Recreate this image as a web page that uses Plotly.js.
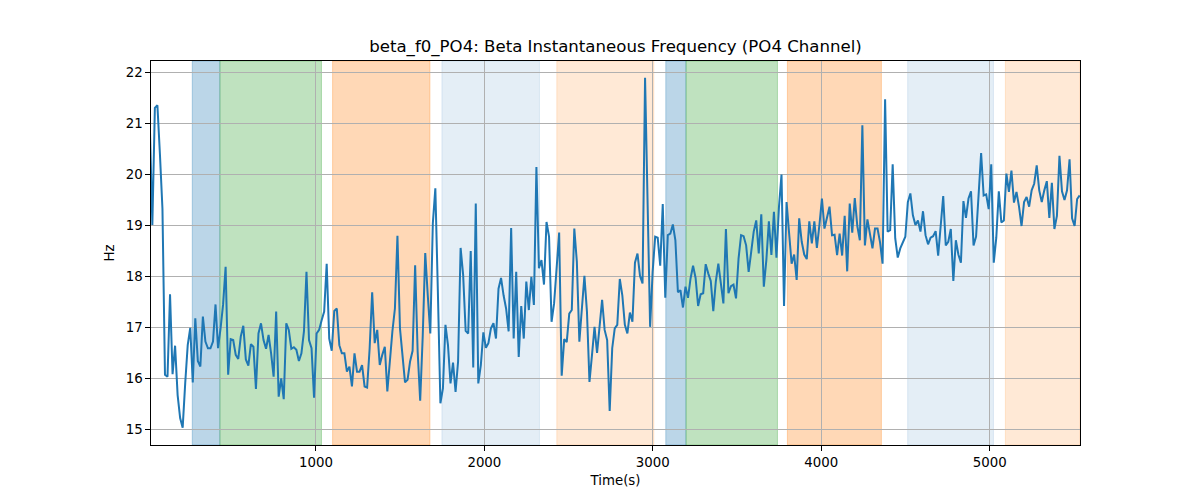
<!DOCTYPE html>
<html>
<head>
<meta charset="utf-8">
<script src="https://cdn.plot.ly/plotly-3.0.1.min.js"></script>
<style>html,body{margin:0;padding:0;background:#fff;}#chart{width:1200px;height:500px;}</style>
</head>
<body>
<div id="chart"></div>
<script>
// Sampling of the series (seconds)
const sampleStart = 14;
const sampleStep = 15;

// Beta instantaneous frequency, PO4 channel (Hz)
const betaHz = [
  20.97, 19.01, 21.31, 21.36, 20.4, 19.33, 16.07, 16.03, 17.65, 16.08,
  16.64, 15.67, 15.22, 15.03, 15.90, 16.65, 16.99, 15.92, 17.18, 16.34,
  16.23, 17.21, 16.72, 16.59, 16.59, 16.72, 17.45, 16.59, 16.98, 17.45,
  18.19, 16.07, 16.77, 16.75, 16.46, 16.38, 16.82, 17.03, 16.37, 16.25,
  16.67, 16.62, 15.79, 16.88, 17.08, 16.75, 16.58, 16.85, 16.49, 16.03,
  17.31, 15.64, 16.0, 15.59, 17.08, 16.95, 16.58, 16.61, 16.56, 16.34,
  16.49, 16.92, 18.09, 16.75, 16.59, 15.62, 16.88, 16.95, 17.14, 17.31,
  18.25, 16.78, 16.54, 17.32, 17.37, 16.65, 16.49, 16.49, 16.13, 16.23,
  15.84, 16.49, 16.13, 16.13, 16.26, 15.84, 15.82, 16.59, 17.69, 16.69,
  16.95, 16.26, 16.46, 16.62, 15.74, 16.42, 16.92, 17.37, 18.80, 16.98,
  16.42, 15.92, 15.97, 16.33, 16.54, 18.22, 16.52, 15.56, 16.82, 18.46,
  17.63, 16.88, 19.04, 19.73, 17.7, 15.51, 15.80, 17.05, 16.65, 15.90,
  16.31, 15.73, 16.33, 18.56, 18.03, 16.93, 16.88, 18.50, 16.21, 19.43,
  15.90, 16.26, 16.90, 16.60, 16.69, 16.98, 17.08, 16.78, 17.76, 17.97,
  17.63, 17.37, 16.92, 18.95, 16.78, 18.09, 16.42, 17.42, 16.78, 17.90,
  17.34, 17.99, 17.44, 20.15, 18.16, 18.32, 17.84, 19.07, 18.78, 17.11,
  17.47, 18.16, 18.86, 16.05, 16.77, 16.71, 17.27, 17.34, 18.94, 18.29,
  16.72, 17.37, 18.01, 17.31, 15.93, 16.46, 17.01, 16.50, 17.11, 17.54,
  16.95, 16.75, 15.36, 16.59, 16.98, 17.05, 17.95, 17.63, 17.05, 16.88,
  17.29, 17.11, 18.27, 18.45, 18.01, 17.86, 21.90, 19.46, 17.01, 18.09,
  18.78, 18.76, 18.21, 19.42, 17.58, 18.81, 18.84, 19.02, 18.71, 17.69,
  17.73, 17.39, 17.80, 17.58, 17.96, 18.21, 17.97, 17.42, 17.65, 17.67,
  18.24, 18.06, 17.91, 17.32, 17.90, 18.25, 17.90, 17.47, 18.93, 17.67,
  17.81, 17.84, 17.57, 18.35, 18.81, 18.79, 18.61, 18.09, 18.48, 18.88,
  19.10, 18.45, 19.22, 17.80, 18.32, 19.08, 18.42, 19.27, 18.37, 19.37,
  20.00, 17.42, 19.46, 18.76, 18.25, 18.43, 17.93, 19.14, 18.68, 18.43,
  18.34, 19.08, 18.65, 19.08, 18.56, 19.01, 19.53, 18.94, 19.14, 19.37,
  18.81, 18.82, 18.42, 18.84, 18.41, 19.19, 18.10, 19.43, 18.86, 19.54,
  18.99, 18.71, 20.97, 18.61, 19.12, 18.84, 18.55, 18.94, 18.94, 18.67,
  18.25, 21.48, 18.88, 18.91, 20.20, 18.75, 18.37, 18.55, 18.68, 18.78,
  19.46, 19.63, 19.20, 19.01, 19.10, 18.88, 19.28, 18.81, 18.63, 18.76,
  18.79, 18.89, 18.41, 19.07, 19.58, 18.61, 18.68, 18.93, 17.91, 18.71,
  18.43, 18.27, 19.48, 19.15, 19.53, 19.67, 18.61, 18.78, 19.5, 20.42,
  19.59, 19.61, 19.32, 20.20, 18.27, 18.76, 19.67, 19.06, 19.10, 20.02,
  19.66, 20.08, 19.45, 19.66, 19.37, 18.99, 19.46, 19.56, 19.37, 19.69,
  19.82, 20.18, 19.69, 19.46, 19.69, 19.87, 19.15, 19.84, 18.93, 19.19,
  20.37, 19.67, 19.50, 19.69, 20.30, 19.14, 18.99, 19.52, 19.59
];

// Shaded epochs (seconds) and their kind
const bandStart = [266, 430, 1099, 1748, 2430, 3077, 3197, 3799, 4513, 5093];
const bandEnd   = [430, 1033, 1677, 2327, 3006, 3197, 3740, 4357, 5022, 5536];
const bandKind  = ['A', 'B', 'C', 'D', 'E', 'A', 'B', 'C', 'D', 'E'];

const xRange = [21, 5536];
const yRange = [14.69, 22.23];
const xTicks = [1000, 2000, 3000, 4000, 5000];
const yTicks = [15, 16, 17, 18, 19, 20, 21, 22];

const kindColor = {
  A: 'rgba(31,119,180,0.3)',
  B: 'rgba(44,160,44,0.3)',
  C: 'rgba(255,127,14,0.3)',
  D: 'rgba(31,119,180,0.12)',
  E: 'rgba(255,127,14,0.17)'
};

const timeS = betaHz.map((_, i) => sampleStart + sampleStep * i);

const shapes = bandStart.map((s, i) => ({
  type: 'rect', xref: 'x', yref: 'paper', x0: s, x1: bandEnd[i], y0: 0, y1: 1,
  fillcolor: kindColor[bandKind[i]], line: {width: 1, color: kindColor[bandKind[i]]},
  layer: 'below'
}));

const font = {family: 'DejaVu Sans, sans-serif', color: '#000', size: 13.33};

const trace = {
  x: timeS, y: betaHz, type: 'scatter', mode: 'lines',
  line: {color: '#1f77b4', width: 2}, hoverinfo: 'skip'
};

const axisCommon = {
  showgrid: true, gridcolor: '#b0b0b0', gridwidth: 1,
  showline: true, linecolor: '#000', linewidth: 1, mirror: true,
  ticks: 'outside', ticklen: 4.7, tickwidth: 1, tickcolor: '#000',
  zeroline: false, tickfont: font, automargin: false
};

const layout = {
  width: 1200, height: 500,
  margin: {l: 151, r: 120, t: 61, b: 55},
  paper_bgcolor: '#fff', plot_bgcolor: '#fff',
  font: font,
  showlegend: false,
  title: {text: 'beta_f0_PO4: Beta Instantaneous Frequency (PO4 Channel)',
          font: {family: 'DejaVu Sans, sans-serif', size: 16.6, color: '#000'},
          x: 0.5, xref: 'paper', xanchor: 'center',
          y: 1 - 46 / 500, yref: 'container', yanchor: 'middle'},
  xaxis: Object.assign({}, axisCommon, {
    range: xRange, tickvals: xTicks, ticktext: xTicks.map(String),
    title: {text: 'Time(s)', font: font, standoff: 6}
  }),
  yaxis: Object.assign({}, axisCommon, {
    range: yRange, tickvals: yTicks, ticktext: yTicks.map(String),
    title: {text: 'Hz', font: font, standoff: 7}
  }),
  shapes: shapes
};

Plotly.newPlot('chart', [trace], layout, {displayModeBar: false, staticPlot: true});
</script>
</body>
</html>
